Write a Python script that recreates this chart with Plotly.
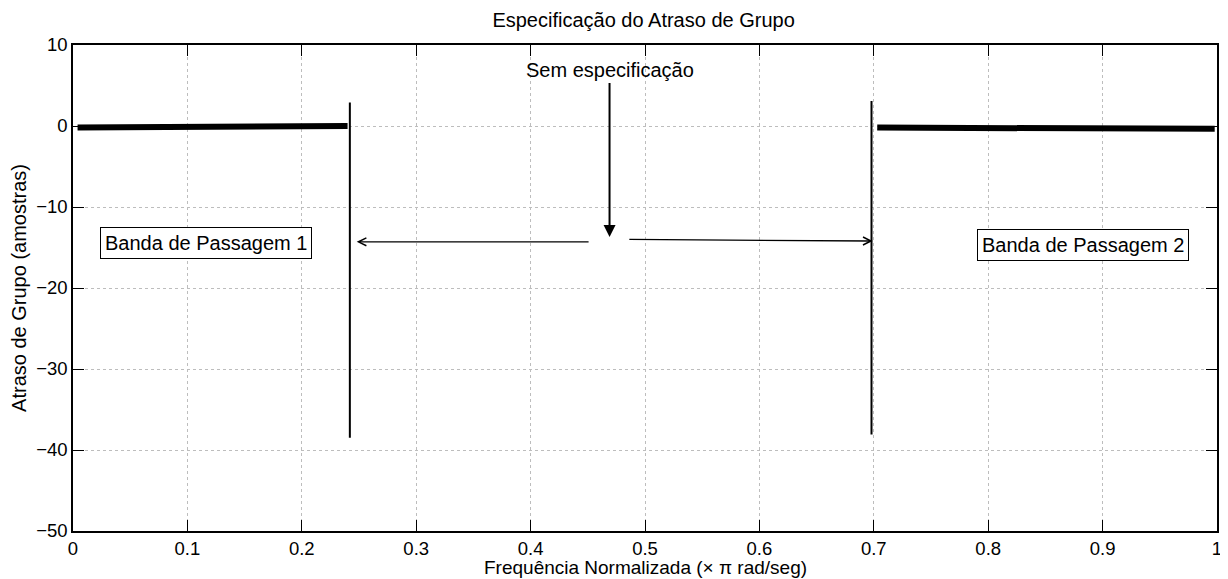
import plotly.graph_objects as go

# ---- data ----
pb1_freq = [0.004, 0.12, 0.24]
pb1_delay = [-0.2, -0.1, 0.0]
pb2_freq = [0.703, 0.85, 0.998]
pb2_delay = [-0.2, -0.25, -0.35]
edge_freq = [0.242, 0.698]
edge_top = [2.9, 3.1]
edge_bottom = [-38.5, -38.1]

x_ticks = [0, 0.1, 0.2, 0.3, 0.4, 0.5, 0.6, 0.7, 0.8, 0.9, 1]
x_tick_labels = ["0", "0.1", "0.2", "0.3", "0.4", "0.5", "0.6", "0.7", "0.8", "0.9", "1"]
y_ticks = [10, 0, -10, -20, -30, -40, -50]
y_tick_labels = ["10", "0", "\u221210", "\u221220", "\u221230", "\u221240", "\u221250"]

title_text = "Especificação do Atraso de Grupo"
x_title = "Frequência Normalizada (× π rad/seg)"
y_title = "Atraso de Grupo (amostras)"
band_labels = ["Banda de Passagem 1", "Banda de Passagem 2"]
band_label_x = [0.116, 0.883]
band_label_y = [-14.4, -14.75]
nospec_label = "Sem especificação"
nospec_x = 0.469
nospec_text_y = 6.9
nospec_arrow_top = 5.5
nospec_arrow_tip = -13.7
left_arrow = dict(x_tail=0.452, y_tail=-14.3, x_tip=0.248, y_tip=-14.3)
right_arrow = dict(x_tail=0.485, y_tail=-14.0, x_tip=0.699, y_tip=-14.2)

FONT = "'Liberation Sans', Helvetica, Arial, sans-serif"

fig = go.Figure()
fig.add_trace(go.Scatter(x=pb1_freq, y=pb1_delay, mode="lines",
                         line=dict(color="black", width=6), showlegend=False, hoverinfo="skip"))
fig.add_trace(go.Scatter(x=pb2_freq, y=pb2_delay, mode="lines",
                         line=dict(color="black", width=6), showlegend=False, hoverinfo="skip"))
for f, t, b in zip(edge_freq, edge_top, edge_bottom):
    fig.add_trace(go.Scatter(x=[f, f], y=[t, b], mode="lines",
                             line=dict(color="black", width=2), showlegend=False, hoverinfo="skip"))

annotations = []
for txt, ax_, ay_ in zip(band_labels, band_label_x, band_label_y):
    annotations.append(dict(x=ax_, y=ay_, xref="x", yref="y", text=txt, showarrow=False,
                            font=dict(family=FONT, size=20, color="black"),
                            bordercolor="black", borderwidth=1, borderpad=4, bgcolor="white"))
annotations.append(dict(x=nospec_x, y=nospec_text_y, xref="x", yref="y", text=nospec_label,
                        showarrow=False, font=dict(family=FONT, size=20, color="black")))
annotations.append(dict(x=nospec_x, y=nospec_arrow_tip, ax=nospec_x, ay=nospec_arrow_top,
                        xref="x", yref="y", axref="x", ayref="y", text="", showarrow=True,
                        arrowhead=2, arrowsize=1.2, arrowwidth=2, arrowcolor="black", standoff=0))
for a in (left_arrow, right_arrow):
    annotations.append(dict(x=a["x_tip"], y=a["y_tip"], ax=a["x_tail"], ay=a["y_tail"],
                            xref="x", yref="y", axref="x", ayref="y", text="", showarrow=True,
                            arrowhead=5, arrowsize=1.2, arrowwidth=1.3, arrowcolor="black", standoff=0))
# x-axis title placed as an annotation so it sits just under the tick labels
annotations.append(dict(x=0.5, y=-0.075, xref="paper", yref="paper", text=x_title,
                        showarrow=False, xanchor="center", yanchor="middle",
                        font=dict(family=FONT, size=19, color="black")))

axis_common = dict(showline=True, linecolor="black", linewidth=1.5, mirror="ticks",
                   ticks="inside", ticklen=11, tickcolor="black", tickwidth=1,
                   showgrid=True, gridcolor="#bdbdbd", gridwidth=1, griddash="dot",
                   zeroline=False, automargin=False,
                   tickfont=dict(family=FONT, size=18.5, color="black"))

# the page body has an 8px offset, so the figure is sized to the visible area
fig.update_layout(
    width=1220, height=571,
    margin=dict(l=65, r=11, t=37, b=48),
    paper_bgcolor="white", plot_bgcolor="white",
    title=dict(text=title_text, x=0.521, xanchor="center", xref="container",
               y=0.979, yanchor="middle", yref="container",
               font=dict(family=FONT, size=20, color="black")),
    xaxis=dict(range=[0, 1], tickvals=x_ticks, ticktext=x_tick_labels, **axis_common),
    yaxis=dict(range=[-50, 10], tickvals=y_ticks, ticktext=y_tick_labels,
               title=dict(text=y_title, standoff=4, font=dict(family=FONT, size=20, color="black")),
               **axis_common),
    annotations=annotations,
)

fig.write_html("out.html")
